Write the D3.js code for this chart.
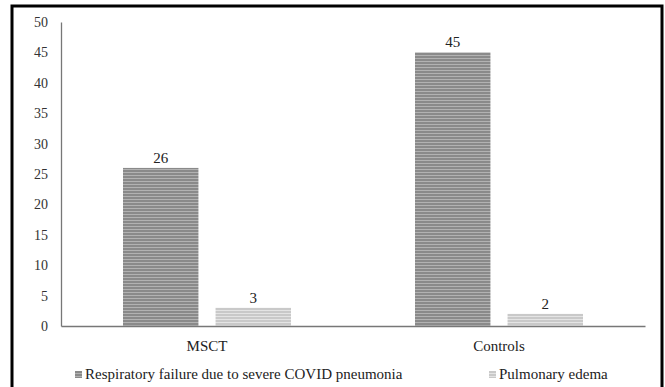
<!DOCTYPE html>
<html><head><meta charset="utf-8">
<script src="https://cdn.jsdelivr.net/npm/d3@7"></script>
<style>body{margin:0;background:#fff}svg{display:block}svg text{font-family:"Liberation Serif",serif !important}</style>
</head><body><svg id="c" width="665" height="387"></svg>
<script>
const categories = ["MSCT", "Controls"];
const seriesNames = ["Respiratory failure due to severe COVID pneumonia", "Pulmonary edema"];
const respiratoryFailure = [26, 45];
const pulmonaryEdema = [3, 2];
const yTicks = [0, 5, 10, 15, 20, 25, 30, 35, 40, 45, 50];

(function () {
const svg = d3.select("#c");
const defs = svg.append("defs");
const pats = [{id:"p0", base:"#8a8a8a", line:"#b2b2b2"}, {id:"p1", base:"#c9c9c9", line:"#e4e4e4"}];
pats.forEach(p => {
  const pt = defs.append("pattern").attr("id", p.id).attr("patternUnits", "userSpaceOnUse").attr("width", 6).attr("height", 3);
  pt.append("rect").attr("width", 6).attr("height", 3).attr("fill", p.base);
  pt.append("rect").attr("y", 1).attr("width", 6).attr("height", 1).attr("fill", p.line);
});

// frame
svg.append("path").attr("d", "M12,390 V6 H662 V390").attr("fill", "none").attr("stroke", "#000").attr("stroke-width", 3);

const mLeft = 61, mRight = 645, mTop = 22, mBottom = 326;
const y = d3.scaleLinear().domain([0, 50]).range([mBottom, mTop]);
const x0 = d3.scaleBand().domain(categories).range([mLeft, mRight]);
const x1 = d3.scaleBand().domain(seriesNames).range([62, 230]).paddingInner(0.185);

const data = categories.map((c, i) => ({cat: c, vals: [respiratoryFailure[i], pulmonaryEdema[i]]}));

const g = svg.append("g");
data.forEach(d => {
  d.vals.forEach((v, j) => {
    const bx = x0(d.cat) + x1(seriesNames[j]);
    g.append("rect").attr("x", bx).attr("y", y(v)).attr("width", x1.bandwidth()).attr("height", mBottom - y(v))
      .attr("fill", `url(#p${j})`);
    g.append("text").attr("x", bx + x1.bandwidth() / 2).attr("y", y(v) - 5).attr("text-anchor", "middle")
      .attr("font-size", 15).attr("fill", "#222").text(v);
  });
});

// y axis
const yAxis = d3.axisLeft(y).tickValues(yTicks).tickSize(0).tickPadding(0);
const ya = svg.append("g").attr("transform", `translate(${mLeft},0)`).call(yAxis);
ya.select(".domain").attr("stroke", "#777").attr("stroke-width", 1.3);
ya.selectAll(".tick text").attr("x", -13).attr("font-size", 14).attr("fill", "#333");

// x axis
const xAxis = d3.axisBottom(x0).tickSize(0).tickPadding(0);
const xa = svg.append("g").attr("transform", `translate(0,${mBottom})`).call(xAxis);
xa.select(".domain").attr("stroke", "#777").attr("stroke-width", 1.3);
xa.selectAll(".tick text").attr("dy", 0).attr("y", 25).attr("font-size", 15).attr("fill", "#222");

// legend
const legX = [75, 489];
seriesNames.forEach((s, j) => {
  svg.append("rect").attr("x", legX[j]).attr("y", 371).attr("width", 7).attr("height", 7).attr("fill", `url(#p${j})`);
  svg.append("text").attr("x", legX[j] + 10).attr("y", 379).attr("font-size", 15).attr("fill", "#222").text(s);
});
})();
</script></body></html>
